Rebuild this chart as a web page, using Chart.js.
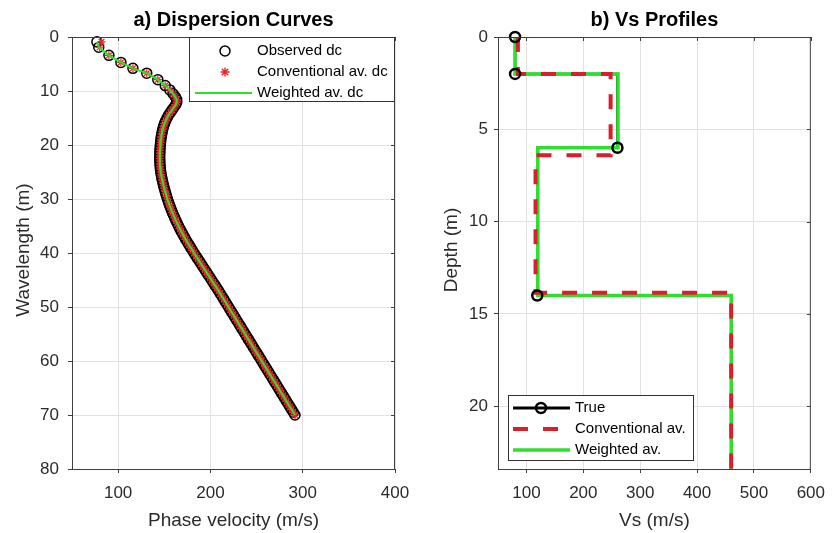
<!DOCTYPE html>
<html>
<head>
<meta charset="utf-8">
<script src="https://cdn.jsdelivr.net/npm/chart.js@4.4.1/dist/chart.umd.min.js"></script>
<style>
  html, body { margin: 0; padding: 0; background: #fff; }
  #wrap { position: relative; width: 835px; height: 533px; }
  canvas { position: absolute; left: 0; top: 0; }
</style>
</head>
<body>
<div id="wrap">
  <canvas id="chart-a" width="835" height="533"></canvas>
  <canvas id="chart-b" width="835" height="533"></canvas>
</div>
<script>
// tick labels
const xTicksA = [100, 200, 300, 400];
const yTicksA = [0, 10, 20, 30, 40, 50, 60, 70, 80];
const xTicksB = [100, 200, 300, 400, 500, 600];
const yTicksB = [0, 5, 10, 15, 20];

// a) dispersion curves: wavelength (m) and phase velocity (m/s)
const lambdaObs = [
  0.9, 1.9, 3.4, 4.7, 5.8, 6.7, 7.9, 9.0, 9.8, 10.5, 11.1, 11.6, 12.1,
  12.5, 13, 13.5, 14, 14.5, 15, 15.5, 16, 16.5, 17, 17.5, 18, 18.5, 19, 19.5, 20,
  20.5, 21, 21.5, 22, 22.5, 23, 23.5, 24, 24.5, 25, 25.5, 26, 26.5, 27, 27.5, 28,
  28.5, 29, 29.5, 30, 30.5, 31, 31.5, 32, 32.5, 33, 33.5, 34, 34.5, 35, 35.5, 36,
  36.5, 37, 37.5, 38, 38.5, 39, 39.5, 40, 40.5, 41, 41.5, 42, 42.5, 43, 43.5, 44,
  44.5, 45, 45.5, 46, 46.5, 47, 47.5, 48, 48.5, 49, 49.5, 50, 50.5, 51, 51.5, 52,
  52.5, 53, 53.5, 54, 54.5, 55, 55.5, 56, 56.5, 57, 57.5, 58, 58.5, 59, 59.5, 60,
  60.5, 61, 61.5, 62, 62.5, 63, 63.5, 64, 64.5, 65, 65.5, 66, 66.5, 67, 67.5, 68,
  68.5, 69, 69.5, 70
];
const vObs = [
  77, 79, 90, 103, 116, 131, 143, 151, 156, 159.5, 162, 163.5, 163.5,
  162.5, 160.5, 158.5, 156.5, 154.5, 153, 151.5, 150.3, 149.3, 148.5, 147.8, 147.2, 146.7, 146.3, 146, 145.7,
  145.5, 145.3, 145.2, 145.1, 145.1, 145.2, 145.3, 145.5, 145.8, 146.2, 146.7, 147.2, 147.8, 148.5, 149.2, 150,
  150.8, 151.6, 152.5, 153.4, 154.4, 155.4, 156.5, 157.6, 158.8, 160, 161.3, 162.6, 164, 165.4, 166.9, 168.4,
  170, 171.6, 173.3, 175, 176.8, 178.6, 180.4, 182.2, 184.1, 186, 187.9, 189.8, 191.7, 193.6, 195.5, 197.4,
  199.3, 201.2, 203.1, 205, 206.9, 208.8, 210.6, 212.4, 214.2, 216, 217.8, 219.6, 221.4, 223.2, 225, 226.8,
  228.6, 230.4, 232.2, 234, 235.8, 237.6, 239.4, 241.2, 243, 244.8, 246.6, 248.4, 250.2, 252, 253.8, 255.6,
  257.4, 259.2, 261, 262.8, 264.6, 266.4, 268.2, 270, 271.8, 273.6, 275.4, 277.2, 279, 280.8, 282.6, 284.4,
  286.2, 288, 289.8, 291.6
];
// conventional average sits on the observed points except at the very top
const vConvTop = [82, 80];
const vConv = vConvTop.concat(vObs.slice(vConvTop.length));
const vWeighted = vObs;

// b) Vs profiles: depth (m) and Vs (m/s), as stairs
const depthTrue = [0, 2, 2, 6, 6, 14, 14, 23.4];
const vsTrue = [80, 80, 260, 260, 120, 120, 460, 460];
const depthTrueMarks = [0, 2, 6, 14];
const vsTrueMarks = [80, 80, 260, 119];
const depthConv = [0, 2, 2, 6.4, 6.4, 13.85, 13.85, 23.4];
const vsConv = [85, 85, 248, 248, 116, 116, 460, 460];
const depthWeighted = [0, 2, 2, 6, 6, 14, 14, 23.4];
const vsWeighted = [80, 80, 261, 261, 120, 120, 460, 460];

const fam = "'Liberation Sans', Arial, Helvetica, sans-serif";
const tickColor = "#2b2b2b";
const gridColor = "#e2e2e2";
const axisColor = "#404040";

function pts(xs, ys) {
  return xs.map((x, i) => ({ x: x, y: ys[i] }));
}

function scalesFor(xMin, xMax, xTicks, yMin, yMax, yTicks, yWidth, yPad) {
  return {
    x: {
      type: "linear",
      min: xMin,
      max: xMax,
      afterBuildTicks: (axis) => { axis.ticks = xTicks.map((v) => ({ value: v })); },
      afterFit: (axis) => { axis.height = 64; },
      ticks: { font: { family: fam, size: 17 }, color: tickColor, padding: 10, maxRotation: 0 },
      grid: { color: gridColor, tickColor: axisColor, tickLength: 4 },
      border: { color: axisColor, width: 1 },
    },
    y: {
      type: "linear",
      reverse: true,
      min: yMin,
      max: yMax,
      afterBuildTicks: (axis) => { axis.ticks = yTicks.map((v) => ({ value: v })); },
      afterFit: (axis) => { axis.width = yWidth; },
      ticks: { font: { family: fam, size: 17 }, color: tickColor, padding: yPad },
      grid: { color: gridColor, tickColor: axisColor, tickLength: 4 },
      border: { color: axisColor, width: 1 },
    },
  };
}

function framePlugin(opts) {
  return {
    id: "frame",
    afterDraw(chart) {
      const ctx = chart.ctx;
      const a = chart.chartArea;
      const sx = chart.scales.x;
      const sy = chart.scales.y;
      ctx.save();
      // box top and right + their ticks
      ctx.strokeStyle = axisColor;
      ctx.lineWidth = 1;
      ctx.beginPath();
      ctx.moveTo(a.left, a.top + 0.5);
      ctx.lineTo(a.right, a.top + 0.5);
      ctx.moveTo(a.right - 0.5, a.top);
      ctx.lineTo(a.right - 0.5, a.bottom);
      opts.xTicks.forEach((v) => {
        const px = Math.round(sx.getPixelForValue(v)) + 0.5;
        ctx.moveTo(px, a.top);
        ctx.lineTo(px, a.top + 4);
      });
      opts.yTicks.forEach((v) => {
        const py = Math.round(sy.getPixelForValue(v)) + 0.5;
        ctx.moveTo(a.right, py);
        ctx.lineTo(a.right - 4, py);
      });
      ctx.stroke();

      // titles
      const cx = (a.left + a.right) / 2;
      ctx.fillStyle = "#000";
      ctx.textAlign = "center";
      ctx.textBaseline = "middle";
      ctx.font = "bold 20px " + fam;
      ctx.fillText(opts.title, cx, 20);
      ctx.fillStyle = tickColor;
      ctx.font = "19px " + fam;
      ctx.fillText(opts.xTitle, cx, 521);
      ctx.save();
      ctx.translate(opts.yTitleX, (a.top + a.bottom) / 2 - 3);
      ctx.rotate(-Math.PI / 2);
      ctx.fillText(opts.yTitle, 0, 0);
      ctx.restore();

      opts.legend(ctx);
      ctx.restore();
    },
  };
}

function drawStar(ctx, x, y, r) {
  ctx.beginPath();
  ctx.moveTo(x - r, y); ctx.lineTo(x + r, y);
  ctx.moveTo(x, y - r); ctx.lineTo(x, y + r);
  const d = r * 0.707;
  ctx.moveTo(x - d, y - d); ctx.lineTo(x + d, y + d);
  ctx.moveTo(x - d, y + d); ctx.lineTo(x + d, y - d);
  ctx.stroke();
}

function legendA(ctx) {
  ctx.fillStyle = "#fff";
  ctx.fillRect(189.5, 37.5, 205, 64);
  ctx.strokeStyle = "#333";
  ctx.lineWidth = 1;
  ctx.strokeRect(189.5, 37.5, 205, 64);
  // observed
  ctx.strokeStyle = "#000";
  ctx.lineWidth = 1.5;
  ctx.beginPath();
  ctx.arc(225, 51, 5, 0, Math.PI * 2);
  ctx.stroke();
  // conventional
  ctx.strokeStyle = "#e8262a";
  ctx.lineWidth = 1.4;
  drawStar(ctx, 225, 72, 4.5);
  // weighted
  ctx.strokeStyle = "#2ee02e";
  ctx.lineWidth = 2;
  ctx.beginPath();
  ctx.moveTo(195, 93); ctx.lineTo(252, 93);
  ctx.stroke();
  ctx.fillStyle = "#000";
  ctx.font = "15px " + fam;
  ctx.textAlign = "left";
  ctx.textBaseline = "middle";
  ctx.fillText("Observed dc", 257, 51);
  ctx.fillText("Conventional av. dc", 257, 72);
  ctx.fillText("Weighted av. dc", 257, 93);
}

function legendB(ctx) {
  ctx.fillStyle = "#fff";
  ctx.fillRect(508.5, 395.5, 185, 65);
  ctx.strokeStyle = "#333";
  ctx.lineWidth = 1;
  ctx.strokeRect(508.5, 395.5, 185, 65);
  // true
  ctx.strokeStyle = "#000";
  ctx.lineWidth = 3;
  ctx.beginPath();
  ctx.moveTo(513, 408); ctx.lineTo(570, 408);
  ctx.stroke();
  ctx.lineWidth = 2.5;
  ctx.beginPath();
  ctx.arc(541, 408, 5, 0, Math.PI * 2);
  ctx.stroke();
  // conventional
  ctx.strokeStyle = "#d8202a";
  ctx.lineWidth = 4;
  ctx.setLineDash([15, 15]);
  ctx.beginPath();
  ctx.moveTo(513, 429); ctx.lineTo(570, 429);
  ctx.stroke();
  ctx.setLineDash([]);
  // weighted
  ctx.strokeStyle = "#2ee02e";
  ctx.lineWidth = 3.5;
  ctx.beginPath();
  ctx.moveTo(513, 450); ctx.lineTo(570, 450);
  ctx.stroke();
  ctx.fillStyle = "#000";
  ctx.font = "15px " + fam;
  ctx.textAlign = "left";
  ctx.textBaseline = "middle";
  ctx.fillText("True", 575, 408);
  ctx.fillText("Conventional av.", 575, 429);
  ctx.fillText("Weighted av.", 575, 450);
}

const chartA = new Chart(document.getElementById("chart-a"), {
  type: "scatter",
  data: {
    datasets: [
      {
        label: "Weighted av. dc",
        data: pts(vWeighted, lambdaObs),
        showLine: true,
        borderColor: "#2ee02e",
        borderWidth: 2,
        pointRadius: 0,
        tension: 0,
        order: 0,
      },
      {
        label: "Conventional av. dc",
        data: pts(vConv, lambdaObs),
        showLine: false,
        pointStyle: "star",
        pointRadius: 4,
        borderColor: "#e8262a",
        borderWidth: 1.2,
        backgroundColor: "#e8262a",
        order: 1,
        clip: false,
      },
      {
        label: "Observed dc",
        data: pts(vObs, lambdaObs),
        showLine: false,
        pointStyle: "circle",
        pointRadius: 5,
        borderColor: "#000",
        borderWidth: 1.5,
        backgroundColor: "rgba(0,0,0,0)",
        order: 2,
        clip: false,
      },
    ],
  },
  options: {
    responsive: false,
    animation: false,
    layout: { padding: { left: 0, top: 37, right: 440, bottom: 0 } },
    plugins: { legend: { display: false }, tooltip: { enabled: false }, title: { display: false } },
    scales: scalesFor(50, 400, xTicksA, 0, 80, yTicksA, 72, 9),
  },
  plugins: [framePlugin({
    title: "a) Dispersion Curves",
    xTitle: "Phase velocity (m/s)",
    yTitle: "Wavelength (m)",
    yTitleX: 24,
    xTicks: xTicksA,
    yTicks: yTicksA,
    legend: legendA,
  })],
});

const chartB = new Chart(document.getElementById("chart-b"), {
  type: "scatter",
  data: {
    datasets: [
      {
        label: "True marks",
        data: pts(vsTrueMarks, depthTrueMarks),
        showLine: false,
        pointStyle: "circle",
        pointRadius: 5,
        borderColor: "#000",
        borderWidth: 2.5,
        backgroundColor: "rgba(0,0,0,0)",
        order: 0,
        clip: false,
      },
      {
        label: "Conventional av.",
        data: pts(vsConv, depthConv),
        showLine: true,
        borderColor: "#d8202a",
        borderWidth: 4,
        borderDash: [15, 15],
        pointRadius: 0,
        tension: 0,
        order: 1,
      },
      {
        label: "Weighted av.",
        data: pts(vsWeighted, depthWeighted),
        showLine: true,
        borderColor: "#2ee02e",
        borderWidth: 3.5,
        pointRadius: 0,
        tension: 0,
        order: 2,
      },
      {
        label: "True",
        data: pts(vsTrue, depthTrue),
        showLine: true,
        borderColor: "#000",
        borderWidth: 2.5,
        pointRadius: 0,
        tension: 0,
        order: 3,
      },
    ],
  },
  options: {
    responsive: false,
    animation: false,
    layout: { padding: { left: 420, top: 37, right: 15, bottom: 0 } },
    plugins: { legend: { display: false }, tooltip: { enabled: false }, title: { display: false } },
    scales: scalesFor(50, 600, xTicksB, 0, 23.4, yTicksB, 78, 6),
  },
  plugins: [framePlugin({
    title: "b) Vs Profiles",
    xTitle: "Vs (m/s)",
    yTitle: "Depth (m)",
    yTitleX: 452,
    xTicks: xTicksB,
    yTicks: yTicksB,
    legend: legendB,
  })],
});
</script>
</body>
</html>
